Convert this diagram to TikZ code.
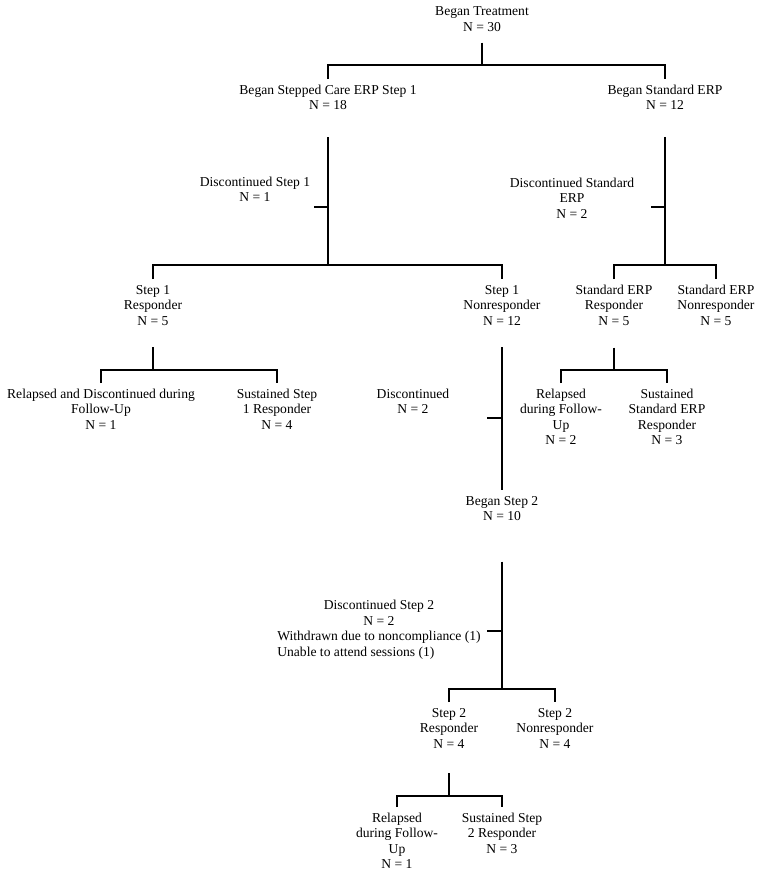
\documentclass[tikz,border=0pt]{standalone}
\usepackage{fontspec}
\setmainfont{Liberation Serif}
\usetikzlibrary{positioning}

\begin{document}
\begin{tikzpicture}[x=1pt, y=-1pt,
  entry/.style={align=center, inner sep=0pt, outer sep=6pt, anchor=north,
    font=\fontsize{13.6}{15.5}\selectfont},
  link/.style={line width=2.6pt},
]
\useasboundingbox (0,0) rectangle (765,879);

% first split
\node[entry] (root) at (482,1) {Began Treatment\\N = 30};
\node[entry] (care) at (328,79) {Began Stepped Care ERP Step 1\\N = 18};
\node[entry] (std) at (665,79) {Began Standard ERP\\N = 12};
\coordinate (j0) at (482,65);

% step 1 arm
\node[entry] (disc1) at (255,171) {Discontinued Step 1\\N = 1};
\node[entry] (step1R) at (153,279) {Step 1\\Responder\\N = 5};
\node[entry] (step1N) at (502,279) {Step 1\\Nonresponder\\N = 12};
\coordinate (j1) at (328,265);
\coordinate (t1) at (328,207);
\coordinate (t1e) at (314,207);

% standard arm
\node[entry] (discStd) at (572,172) {Discontinued Standard\\ERP\\N = 2};
\node[entry] (stdR) at (614,279) {Standard ERP\\Responder\\N = 5};
\node[entry] (stdN) at (716,279) {Standard ERP\\Nonresponder\\N = 5};
\coordinate (j2) at (665,265);
\coordinate (t2) at (665,207);
\coordinate (t2e) at (651,207);

% follow-up
\node[entry] (relDisc) at (101,383) {Relapsed and Discontinued during\\Follow-Up\\N = 1};
\node[entry] (sust1) at (277,383) {Sustained Step\\1 Responder\\N = 4};
\coordinate (j3) at (153,370);
\node[entry] (relStd) at (561,383) {Relapsed\\during Follow-\\Up\\N = 2};
\node[entry] (sustStd) at (667,383) {Sustained\\Standard ERP\\Responder\\N = 3};
\coordinate (j4) at (614,370);

% step 2
\node[entry] (disc) at (413,383) {Discontinued\\N = 2};
\coordinate (t3) at (502,418);
\coordinate (t3e) at (487,418);
\node[entry] (began2) at (502,490) {Began Step 2\\N = 10};
\node[entry] (disc2) at (379,593)
  {\begin{tabular}{@{}l@{}}
   \multicolumn{1}{@{}c@{}}{Discontinued Step 2}\\
   \multicolumn{1}{@{}c@{}}{N = 2}\\
   Withdrawn due to noncompliance (1)\\
   Unable to attend sessions (1)
   \end{tabular}};
\coordinate (t4) at (502,631);
\coordinate (t4e) at (487,631);
\node[entry] (step2R) at (449,702) {Step 2\\Responder\\N = 4};
\node[entry] (step2N) at (555,702) {Step 2\\Nonresponder\\N = 4};
\coordinate (j5) at (502,689);
\node[entry] (rel2) at (397,807) {Relapsed\\during Follow-\\Up\\N = 1};
\node[entry] (sust2) at (502,807) {Sustained Step\\2 Responder\\N = 3};
\coordinate (j6) at (449,796);

% connectors
\draw[link, shorten <=5pt] (root) -- (j0);
\draw[link] (care) |- (j0) -| (std);
\draw[link, shorten <=21pt] (care) -- (j1);
\draw[link] (step1R) |- (j1) -| (step1N);
\draw[link] (t1) -- (t1e);
\draw[link, shorten <=21pt] (std) -- (j2);
\draw[link] (stdR) |- (j2) -| (stdN);
\draw[link] (t2) -- (t2e);
\draw[link, shorten <=16pt] (step1R) -- (j3);
\draw[link] (relDisc) |- (j3) -| (sust1);
\draw[link, shorten <=16pt] (stdR) -- (j4);
\draw[link] (relStd) |- (j4) -| (sustStd);
\draw[link, shorten <=16pt] (step1N) -- (began2);
\draw[link] (t3) -- (t3e);
\draw[link, shorten <=35pt] (began2) -- (j5);
\draw[link] (step2R) |- (j5) -| (step2N);
\draw[link] (t4) -- (t4e);
\draw[link, shorten <=19pt] (step2R) -- (j6);
\draw[link] (rel2) |- (j6) -| (sust2);
\end{tikzpicture}
\end{document}
